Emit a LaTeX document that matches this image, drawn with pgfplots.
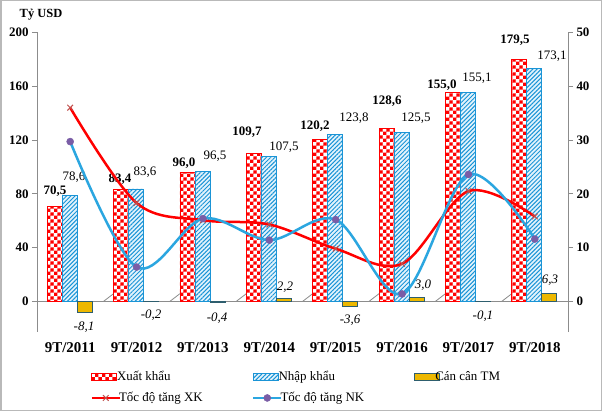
\documentclass[border=0pt]{standalone}
\usepackage{fontspec}
\setmainfont{Liberation Serif}
\usepackage{pgfplots}
\pgfplotsset{compat=1.18}
\usetikzlibrary{patterns,patterns.meta}

\definecolor{xkred}{HTML}{FF0000}
\definecolor{xkmark}{HTML}{C0504D}
\definecolor{nkblue}{HTML}{1A94D6}
\definecolor{nkbg}{HTML}{E3F3FC}
\definecolor{ccgold}{HTML}{EDB800}
\definecolor{ccedge}{HTML}{2E5E6E}
\definecolor{nkline}{HTML}{2BA6E0}
\definecolor{nkmark}{HTML}{7A5DA6}
\definecolor{axgray}{HTML}{8C8C8C}

\pgfdeclarepatterninherentlycolored{redcheck}{\pgfpointorigin}{\pgfqpoint{6.8bp}{6.8bp}}{\pgfqpoint{6.8bp}{6.8bp}}{%
\pgfsetfillcolor{white}\pgfpathrectangle{\pgfpointorigin}{\pgfqpoint{6.8bp}{6.8bp}}\pgfusepath{fill}%
\pgfsetfillcolor{xkred}\pgfpathrectangle{\pgfpointorigin}{\pgfqpoint{3.4bp}{3.4bp}}\pgfpathrectangle{\pgfqpoint{3.4bp}{3.4bp}}{\pgfqpoint{3.4bp}{3.4bp}}\pgfusepath{fill}}

\pgfplotsset{
 linelegend/.style={legend image code/.code={\draw[mark repeat=2,mark phase=2,##1] plot coordinates {(0bp,0bp) (14bp,0bp) (28bp,0bp)};}},
 barlegend/.style={legend image code/.code={\draw[##1] (0bp,-3.5bp) rectangle (25bp,3.5bp);}},
 xkbar/.style={pattern=redcheck, draw=xkred, line width=0.8bp},
 nkbar/.style={fill=nkbg, draw=nkblue, line width=0.8bp, postaction={pattern={Lines[angle=45,distance=3bp,line width=1bp]}, pattern color=nkblue}},
 ccbar/.style={fill=ccgold, draw=ccedge, line width=0.8bp},
}

\pgfplotstableread{
x xk nk cc
0 70.5 78.6 -8.1
1 83.4 83.6 -0.2
2 96.0 96.5 -0.4
3 109.7 107.5 2.2
4 120.2 123.8 -3.6
5 128.6 125.5 3.0
6 155.0 155.1 -0.1
7 179.5 173.1 6.3
}\trade

\pgfplotstableread{
x gxk gnk
0 36.0 29.7
1 18.3 6.4
2 15.1 15.4
3 14.3 11.4
4 9.8 15.2
5 7.0 1.4
6 20.5 23.6
7 15.8 11.6
}\growth

\begin{document}
\begin{tikzpicture}
\useasboundingbox (0,0) rectangle (602bp,411bp);
\fill[white] (0,0) rectangle (602bp,411bp);
\begin{axis}[
 at={(37bp,79bp)}, anchor=south west, scale only axis,
 width=531bp, height=299.7bp,
 xmin=-0.5, xmax=7.5, ymin=-22.66, ymax=200,
 axis y line*=left, axis x line*=bottom,
 x axis line style={draw=none},
 y axis line style={draw=axgray, line width=0.8bp},
 ytick={0,40,...,200},
 yticklabel style={font=\fontsize{13}{13}\selectfont\bfseries},
 ytick style={draw=axgray, line width=0.8bp},
 tick align=outside, major tick length=5bp,
 xtick={0,...,7},
 xticklabels={9T/2011,9T/2012,9T/2013,9T/2014,9T/2015,9T/2016,9T/2017,9T/2018},
 xtick style={draw=none},
 xticklabel style={font=\fontsize{15}{15}\selectfont\bfseries, yshift=-2bp},
 /pgf/number format/assume math mode=true,
 clip=false,
]
\draw[axgray, line width=0.8bp] (axis cs:-0.5,0) -- (axis cs:7.5,0);
\pgfplotsinvokeforeach{0,...,6}{\draw[axgray, line width=0.8bp] (axis cs:#1+0.5,0) -- ++(0,-5bp);}
\addplot[ybar, bar width=15bp, bar shift=-15.5bp, xkbar] table[x=x,y=xk] {\trade};
\addplot[ybar, bar width=15bp, bar shift=-0.5bp, nkbar] table[x=x,y=nk] {\trade};
\addplot[ybar, bar width=15bp, bar shift=14.5bp, ccbar] table[x=x,y=cc] {\trade};
\begin{scope}[every node/.style={font=\fontsize{13}{13}\selectfont\bfseries, inner sep=0pt}]
\node at (axis cs:-0.229,82.3) {70,5};
\node at (axis cs:0.750,90.5) {83,4};
\node at (axis cs:1.715,103.1) {96,0};
\node at (axis cs:2.664,125.5) {109,7};
\node at (axis cs:3.688,129.9) {120,2};
\node at (axis cs:4.773,148.5) {128,6};
\node at (axis cs:5.602,160.5) {155,0};
\node at (axis cs:6.701,194.0) {179,5};
\end{scope}
\begin{scope}[every node/.style={font=\fontsize{13}{13}\selectfont, inner sep=0pt}]
\node at (axis cs:0.057,92.0) {78,6};
\node at (axis cs:1.127,96.4) {83,6};
\node at (axis cs:2.182,107.6) {96,5};
\node at (axis cs:3.221,115.0) {107,5};
\node at (axis cs:4.276,135.9) {123,8};
\node at (axis cs:5.210,135.9) {125,5};
\node at (axis cs:6.129,165.7) {155,1};
\node at (axis cs:7.259,182.1) {173,1};
\end{scope}
\begin{scope}[every node/.style={font=\fontsize{13}{13}\selectfont\itshape, inner sep=0pt}]
\node at (axis cs:0.208,-19.0) {-8,1};
\node at (axis cs:1.218,-10.1) {-0,2};
\node at (axis cs:2.212,-12.3) {-0,4};
\node at (axis cs:3.236,10.8) {2,2};
\node at (axis cs:4.216,-13.8) {-3,6};
\node at (axis cs:5.315,12.3) {3,0};
\node at (axis cs:6.219,-10.8) {-0,1};
\node at (axis cs:7.229,16.0) {6,3};
\end{scope}
\end{axis}

\begin{axis}[
 at={(37bp,79bp)}, anchor=south west, scale only axis,
 width=531bp, height=299.7bp,
 xmin=-0.5, xmax=7.5, ymin=-5.665, ymax=50,
 hide x axis,
 axis y line*=right,
 y axis line style={draw=axgray, line width=0.8bp},
 ytick={0,10,...,50},
 yticklabel style={font=\fontsize{13}{13}\selectfont\bfseries},
 ytick style={draw=axgray, line width=0.8bp},
 tick align=outside, major tick length=5bp,
 /pgf/number format/assume math mode=true,
 clip=false,
 legend columns=3,
 legend cell align=left,
 legend style={draw=none, fill=none, inner sep=0pt, outer sep=0pt,
   anchor=north west, at={(axis description cs:0.1008,-0.125)},
   font=\fontsize{13}{13}\selectfont,
   nodes={inner xsep=0bp, inner ysep=1bp, text height=10bp, text depth=3bp},
   row sep=6bp, column sep=0bp},
]
\addlegendimage{barlegend, xkbar}
\addlegendentry{\makebox[131bp][l]{\hspace*{-4bp}Xuất khẩu}}
\addlegendimage{barlegend, nkbar}
\addlegendentry{\makebox[131bp][l]{\hspace*{-4bp}Nhập khẩu}}
\addlegendimage{barlegend, ccbar}
\addlegendentry{\hspace*{-4bp}Cán cân TM}
\addplot[xkred, line width=2.5bp, smooth, tension=0.55, mark=x, mark size=4bp,
  mark options={draw=xkmark, line width=1bp}, linelegend] table[x=x,y=gxk] {\growth};
\addlegendentry{\makebox[131bp][l]{\hspace*{-2bp}Tốc độ tăng XK}}
\addplot[nkline, line width=2.5bp, smooth, tension=0.55, mark=*, mark size=3.5bp,
  mark options={fill=nkmark, draw=nkmark, line width=0.5bp}, linelegend] table[x=x,y=gnk] {\growth};
\addlegendentry{\makebox[131bp][l]{\hspace*{-2bp}Tốc độ tăng NK}}
\end{axis}
\node[font=\fontsize{12.5}{12.5}\selectfont\bfseries] at (41bp,396bp) {Tỷ USD};
\draw[gray!55, line width=1.5bp] (0.75bp,0.75bp) rectangle (601.25bp,410.25bp);
\end{tikzpicture}
\end{document}
